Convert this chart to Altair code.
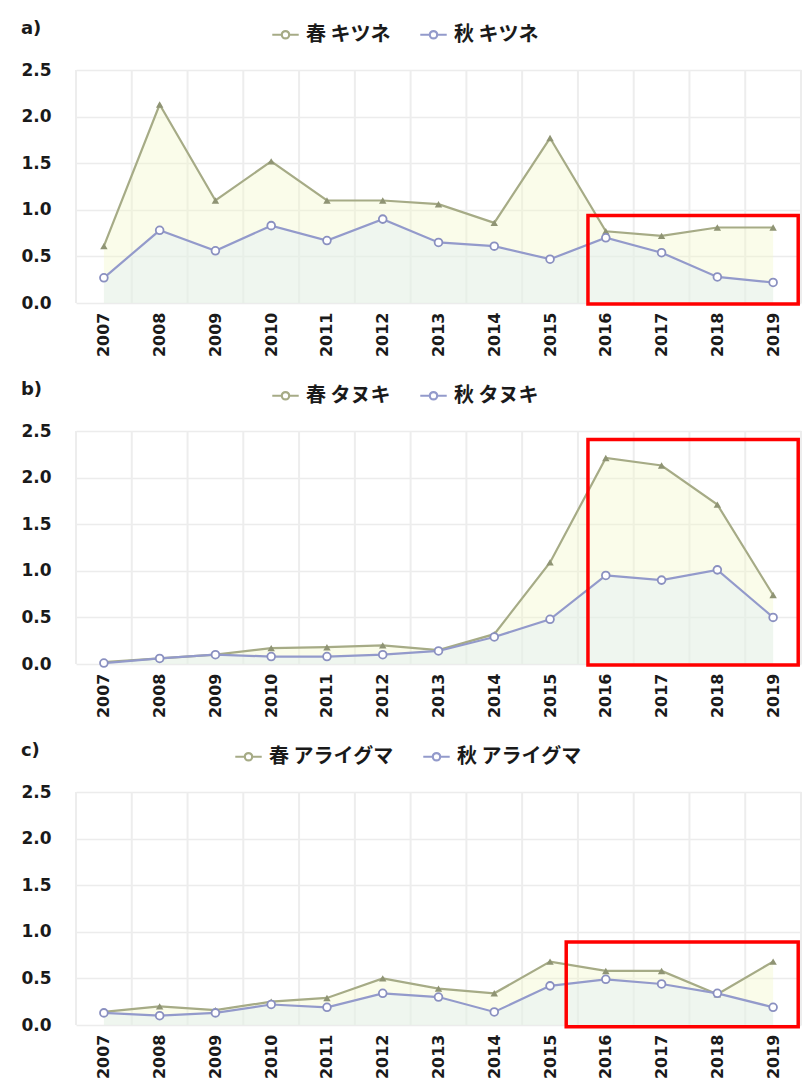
import altair as alt
import pandas as pd

# Survey years
years = list(range(2007, 2020))

# Index values per season and species
fox_spring = [0.61, 2.13, 1.10, 1.52, 1.10, 1.10, 1.06, 0.86, 1.77, 0.77, 0.72, 0.81, 0.81]
fox_autumn = [0.27, 0.78, 0.56, 0.83, 0.67, 0.90, 0.65, 0.61, 0.47, 0.70, 0.54, 0.28, 0.22]

tanuki_spring = [0.02, 0.06, 0.10, 0.17, 0.18, 0.20, 0.15, 0.32, 1.09, 2.21, 2.13, 1.71, 0.74]
tanuki_autumn = [0.01, 0.06, 0.10, 0.08, 0.08, 0.10, 0.14, 0.29, 0.48, 0.95, 0.90, 1.01, 0.50]

raccoon_spring = [0.14, 0.20, 0.16, 0.25, 0.29, 0.50, 0.39, 0.34, 0.68, 0.58, 0.58, 0.33, 0.68]
raccoon_autumn = [0.13, 0.10, 0.13, 0.22, 0.19, 0.34, 0.30, 0.14, 0.42, 0.49, 0.44, 0.34, 0.19]

panel_tags = ["a)", "b)", "c)"]
species = ["キツネ", "タヌキ", "アライグマ"]

# Highlighted recent period per panel: [x_start, x_end, y_low, y_high]
highlight_boxes = [
    [2015.68, 2019.45, -0.01, 0.94],
    [2015.68, 2019.45, -0.01, 2.41],
    [2015.29, 2019.45, -0.02, 0.89],
]

y_ticks = [0.0, 0.5, 1.0, 1.5, 2.0, 2.5]
grid_x = [y + 0.5 for y in [2006] + years]

NUM_FONT = "DejaVu Sans"
CJK_FONT = "Noto Sans CJK JP"
SPRING = "#a6ab86"
AUTUMN = "#939acb"
SPRING_HAZE = "#f3f7c9"
AUTUMN_HAZE = "#dcedf8"

# legend glyph: short line with a small ring in the middle
LEGEND_SYMBOL = "M-1,0L-0.28,0M0.28,0L1,0M0.28,0A0.28,0.28,0,1,1,-0.28,0A0.28,0.28,0,1,1,0.28,0Z"

PLOT_W = 725
PLOT_H = 233


def make_panel(tag, animal, spring, autumn, box, legend_x):
    labels = [f"春 {animal}", f"秋 {animal}"]
    df = pd.DataFrame({
        "year": years + years,
        "value": spring + autumn,
        "series": [labels[0]] * len(years) + [labels[1]] * len(years),
    })
    xscale = alt.Scale(domain=[2006.5, 2019.5], nice=False, zero=False)
    yscale = alt.Scale(domain=[0, 2.5], nice=False)

    x_axis = alt.Axis(values=years, format="d", labelAngle=270, labelAlign="right",
                      labelBaseline="middle", grid=False, ticks=False, domain=False,
                      labelFontSize=16, labelFontWeight="bold", labelColor="#1a1a1a",
                      labelFont=NUM_FONT, labelPadding=9, labelFlush=False)
    y_axis = alt.Axis(values=y_ticks, format=".1f", grid=True, gridColor="#ececec",
                      gridWidth=1.5, ticks=False, domain=False, labelFontSize=17,
                      labelFontWeight="bold", labelColor="#1a1a1a", labelFont=NUM_FONT,
                      labelPadding=25)

    x_enc = alt.X("year:Q", scale=xscale, title=None, axis=x_axis)
    y_enc = alt.Y("value:Q", scale=yscale, title=None, stack=None, axis=y_axis)

    base = alt.Chart(df)

    # light vertical separators between years
    grid_df = pd.DataFrame({"gx": grid_x})
    vgrid = alt.Chart(grid_df).mark_rule(color="#ededed", strokeWidth=2).encode(
        x=alt.X("gx:Q", scale=xscale, title=None, axis=x_axis),
    )

    haze = base.mark_area(opacity=0.38, interpolate="linear").encode(
        x=x_enc, y=y_enc,
        color=alt.Color("series:N", scale=alt.Scale(domain=labels, range=[SPRING_HAZE, AUTUMN_HAZE]),
                        legend=None),
        order=alt.Order("series:N", sort="descending"),
    )

    lines = base.mark_line(strokeWidth=2.2).encode(
        x=x_enc, y=y_enc,
        color=alt.Color(
            "series:N",
            scale=alt.Scale(domain=labels, range=[SPRING, AUTUMN]),
            legend=alt.Legend(
                title=None, orient="none", direction="horizontal",
                legendX=legend_x, legendY=-50, symbolType=LEGEND_SYMBOL, symbolSize=700,
                symbolStrokeWidth=2.2, labelFontSize=20, labelFontWeight="bold",
                labelFont=CJK_FONT, labelColor="#1a1a1a", columnPadding=24,
                labelOffset=6, symbolOffset=0,
            ),
        ),
    )

    spring_pts = alt.Chart(df[df["series"] == labels[0]]).mark_point(
        shape="triangle-up", filled=True, size=55, color="#8f9474", opacity=1
    ).encode(x=x_enc, y=y_enc)

    autumn_pts = alt.Chart(df[df["series"] == labels[1]]).mark_point(
        shape="circle", filled=True, size=60, fill="white", stroke="#8a90c0",
        strokeWidth=1.8, opacity=1
    ).encode(x=x_enc, y=y_enc)

    box_df = pd.DataFrame({"x0": [box[0]], "x1": [box[1]], "y0": [box[2]], "y1": [box[3]]})
    frame = alt.Chart(box_df).mark_rect(fill=None, stroke="#ff0000", strokeWidth=3.5).encode(
        x=alt.X("x0:Q", scale=xscale, title=None, axis=x_axis), x2="x1:Q",
        y=alt.Y("y0:Q", scale=yscale, title=None, axis=y_axis), y2="y1:Q",
    )

    return alt.layer(vgrid, haze, lines, spring_pts, autumn_pts, frame).properties(
        width=PLOT_W, height=PLOT_H,
        title=alt.TitleParams(tag, anchor="start", frame="bounds", fontSize=18,
                              fontWeight="bold", font=NUM_FONT, color="#1a1a1a", offset=-18),
    ).resolve_scale(color="independent")


legend_offsets = [195, 195, 158]

panels = [
    make_panel(panel_tags[i], species[i], s, a, highlight_boxes[i], legend_offsets[i])
    for i, (s, a) in enumerate([
        (fox_spring, fox_autumn),
        (tanuki_spring, tanuki_autumn),
        (raccoon_spring, raccoon_autumn),
    ])
]

chart = alt.vconcat(*panels, spacing=24).resolve_scale(color="independent").resolve_legend(
    color="independent"
).properties(
    padding={"left": 20, "top": 20, "right": 2, "bottom": 2},
    background="white",
).configure_view(stroke=None)

chart.save("out.html", embed_options={"renderer": "svg", "actions": False})
